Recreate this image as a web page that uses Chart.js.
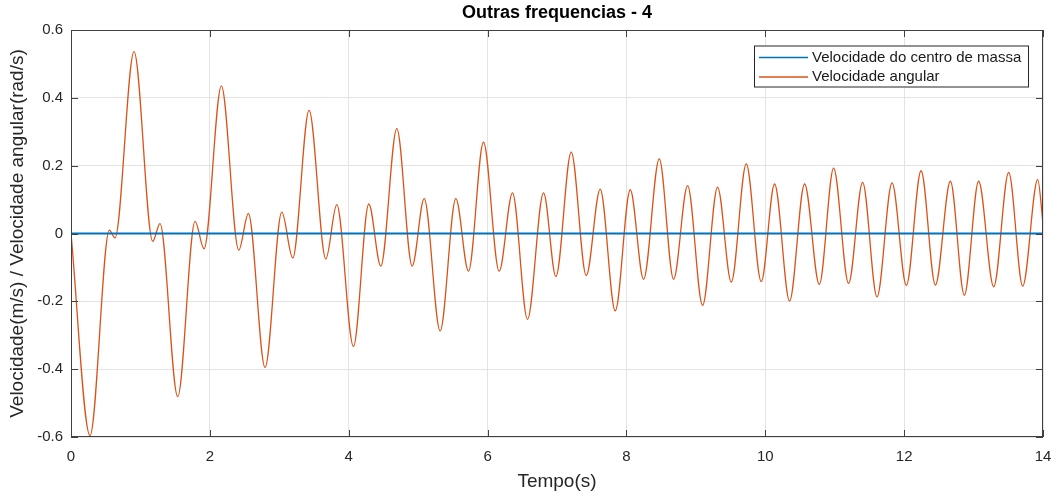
<!DOCTYPE html>
<html>
<head>
<meta charset="utf-8">
<script src="https://cdn.jsdelivr.net/npm/chart.js@4.4.0/dist/chart.umd.min.js"></script>
<style>
  html, body { margin: 0; padding: 0; background: #fff; }
  #wrap { width: 1057px; height: 496px; }
</style>
</head>
<body>
<div id="wrap"><canvas id="chart" width="1057" height="496"></canvas></div>
<script>
// Velocidade do centro de massa (flat at zero)
const tempoCm = [0, 14];
const velCm = [0, 0];

// Velocidade angular - extrema
const tempoAng = [
    0, 0.274, 0.552, 0.634, 0.908, 1.177, 1.282, 1.537, 1.787, 1.916,
    2.166, 2.416, 2.555, 2.795, 3.036, 3.194, 3.429, 3.670, 3.828, 4.068,
    4.289, 4.462, 4.693, 4.914, 5.087, 5.317, 5.543, 5.725, 5.941, 6.167,
    6.359, 6.575, 6.806, 6.984, 7.205, 7.421, 7.622, 7.839, 8.055, 8.247,
    8.473, 8.679, 8.881, 9.097, 9.313, 9.510, 9.726, 9.942, 10.134, 10.350,
    10.566, 10.778, 10.984, 11.200, 11.402, 11.609, 11.826, 12.032, 12.244, 12.450,
    12.666, 12.867, 13.073, 13.290, 13.506, 13.708, 13.924, 14
];
const velAng = [
    0, -0.596, 0.010, -0.013, 0.536, -0.023, 0.029, -0.481, 0.036, -0.045,
    0.435, -0.049, 0.059, -0.395, 0.063, -0.072, 0.363, -0.075, 0.085, -0.333,
    0.087, -0.096, 0.309, -0.096, 0.103, -0.287, 0.103, -0.111, 0.269, -0.111,
    0.120, -0.253, 0.120, -0.127, 0.240, -0.124, 0.131, -0.228, 0.129, -0.135,
    0.220, -0.135, 0.141, -0.212, 0.137, -0.143, 0.205, -0.142, 0.146, -0.199,
    0.146, -0.150, 0.193, -0.147, 0.151, -0.187, 0.149, -0.153, 0.185, -0.152,
    0.154, -0.182, 0.154, -0.157, 0.180, -0.155, 0.159, 0.030
];

// Axis ticks
const xTicks = [0, 2, 4, 6, 8, 10, 12, 14];
const yTicks = [-0.6, -0.4, -0.2, 0, 0.2, 0.4, 0.6];

const FONT = "'Liberation Sans', Arial, Helvetica, sans-serif";
const AXIS_COLOR = '#404040';

// MATLAB-ish box with inward ticks and a boxed legend
const boxPlugin = {
    id: 'matlabBox',
    afterDraw(chart) {
        const ctx = chart.ctx;
        const a = chart.chartArea;
        const xs = chart.scales.x;
        const ys = chart.scales.y;
        const tick = 7;
        ctx.save();
        ctx.strokeStyle = AXIS_COLOR;
        ctx.lineWidth = 1;
        ctx.strokeRect(Math.round(a.left) + 0.5, Math.round(a.top) + 0.5,
            Math.round(a.right - a.left) - 1, Math.round(a.bottom - a.top) - 1);
        ctx.beginPath();
        xTicks.forEach(v => {
            const px = Math.round(xs.getPixelForValue(v)) + 0.5;
            ctx.moveTo(px, a.bottom); ctx.lineTo(px, a.bottom - tick);
            ctx.moveTo(px, a.top); ctx.lineTo(px, a.top + tick);
        });
        yTicks.forEach(v => {
            const py = Math.round(ys.getPixelForValue(v)) + 0.5;
            ctx.moveTo(a.left, py); ctx.lineTo(a.left + tick, py);
            ctx.moveTo(a.right, py); ctx.lineTo(a.right - tick, py);
        });
        ctx.stroke();

        // legend
        const lx = a.right - 289, ly = a.top + 15.5, lw = 275, lh = 42;
        ctx.fillStyle = '#fff';
        ctx.fillRect(lx, ly, lw, lh);
        ctx.strokeStyle = '#262626';
        ctx.strokeRect(lx + 0.5, ly + 0.5, lw - 1, lh - 1);
        ctx.font = '15px ' + FONT;
        ctx.textBaseline = 'middle';
        ctx.textAlign = 'left';
        chart.data.datasets.forEach((ds, i) => {
            const ry = ly + 12 + i * 19.6;
            ctx.strokeStyle = ds.borderColor;
            ctx.lineWidth = 1.5;
            ctx.beginPath();
            ctx.moveTo(lx + 5, ry); ctx.lineTo(lx + 54, ry);
            ctx.stroke();
            ctx.fillStyle = '#1a1a1a';
            ctx.fillText(ds.label, lx + 58, ry);
        });
        ctx.restore();
    }
};

const ctx = document.getElementById('chart').getContext('2d');
const chart = new Chart(ctx, {
    type: 'line',
    data: {
        datasets: [
            {
                label: 'Velocidade do centro de massa',
                data: tempoCm.map((t, i) => ({ x: t, y: velCm[i] })),
                borderColor: '#0072BD',
                borderWidth: 2,
                pointRadius: 0
            },
            {
                label: 'Velocidade angular',
                data: tempoAng.map((t, i) => ({ x: t, y: velAng[i] })),
                borderColor: '#D95319',
                borderWidth: 1.3,
                pointRadius: 0,
                cubicInterpolationMode: 'monotone'
            }
        ]
    },
    options: {
        responsive: false,
        devicePixelRatio: 1,
        animation: false,
        layout: { padding: { top: 0, right: 14, bottom: 0, left: 0 } },
        plugins: {
            legend: { display: false },
            tooltip: { enabled: false },
            title: {
                display: true,
                fullSize: false,
                text: 'Outras frequencias - 4',
                color: '#000',
                font: { family: FONT, size: 18, weight: 'bold' },
                padding: { top: 2.5, bottom: 5.9 }
            }
        },
        scales: {
            x: {
                type: 'linear',
                min: 0,
                max: 14,
                afterFit: s => {
                    s.height = 59;
                    s.paddingLeft = 0;
                    s.paddingRight = 0;
                },
                afterBuildTicks: s => { s.ticks = xTicks.map(v => ({ value: v })); },
                grid: { color: '#e3e3e3', drawTicks: false },
                border: { display: false },
                ticks: {
                    color: '#262626',
                    padding: 11,
                    maxRotation: 0,
                    font: { family: FONT, size: 15 }
                },
                title: {
                    display: true,
                    text: 'Tempo(s)',
                    color: '#262626',
                    font: { family: FONT, size: 19 },
                    padding: { top: 0, bottom: 2.6 }
                }
            },
            y: {
                type: 'linear',
                min: -0.6,
                max: 0.6,
                afterFit: s => { s.width = 71; },
                afterBuildTicks: s => { s.ticks = yTicks.map(v => ({ value: v })); },
                grid: { color: '#e3e3e3', drawTicks: false },
                border: { display: false },
                ticks: {
                    color: '#262626',
                    padding: 8,
                    font: { family: FONT, size: 15 },
                    callback: v => {
                        const r = Math.round(v * 10) / 10;
                        return r === 0 ? '0' : String(r);
                    }
                },
                title: {
                    display: true,
                    text: 'Velocidade(m/s) / Velocidade angular(rad/s)',
                    color: '#262626',
                    font: { family: FONT, size: 19 },
                    padding: { top: 6.5, bottom: 0 }
                }
            }
        }
    },
    plugins: [boxPlugin]
});
</script>
</body>
</html>
